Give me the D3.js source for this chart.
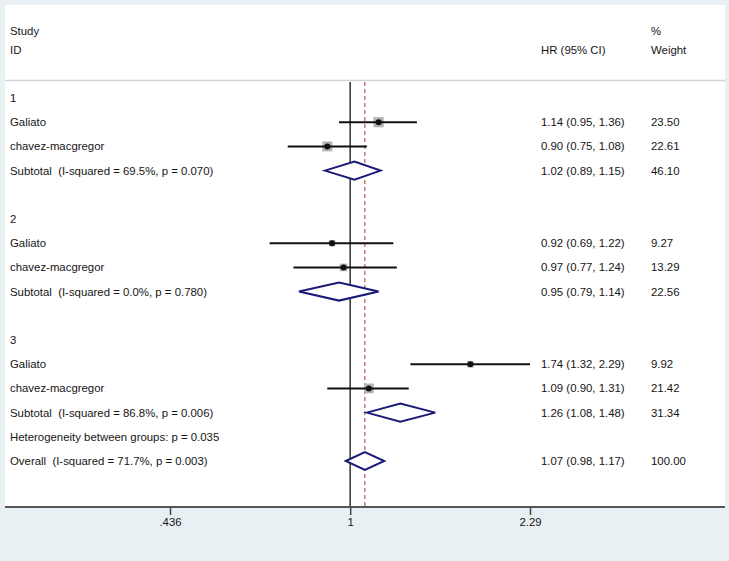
<!DOCTYPE html>
<meta charset="utf-8">
<style>
body { margin: 0; background: #e9f0f3; }
text { font: 11.4px "Liberation Sans", Arial, sans-serif; fill: #151515; white-space: pre; }
</style>
<svg width="729" height="561"></svg>
<script src="https://d3js.org/d3.v7.min.js"></script>
<script>

// study rows, one inner array per subgroup
var groupLabels = ["1", "2", "3"];
var studyNames = ["Galiato", "chavez-macgregor"];
var studyHR = [[1.14, 0.90], [0.92, 0.97], [1.74, 1.09]];
var studyLo = [[0.95, 0.75], [0.69, 0.77], [1.32, 0.90]];
var studyHi = [[1.36, 1.08], [1.22, 1.24], [2.29, 1.31]];
var studyWeight = [[23.50, 22.61], [9.27, 13.29], [9.92, 21.42]];

// subtotals
var subtotalLabels = [
  "Subtotal  (I-squared = 69.5%, p = 0.070)",
  "Subtotal  (I-squared = 0.0%, p = 0.780)",
  "Subtotal  (I-squared = 86.8%, p = 0.006)"
];
var subtotalHR = [1.02, 0.95, 1.26];
var subtotalLo = [0.89, 0.79, 1.08];
var subtotalHi = [1.15, 1.14, 1.48];
var subtotalWeight = [46.10, 22.56, 31.34];

// overall
var heterogeneityLabel = "Heterogeneity between groups: p = 0.035";
var overallLabel = "Overall  (I-squared = 71.7%, p = 0.003)";
var overallHR = 1.07, overallLo = 0.98, overallHi = 1.17, overallWeight = 100.00;

var tickValues = [0.436, 1, 2.29];
var tickLabels = [".436", "1", "2.29"];

var svg = d3.select("svg");

var x = d3.scaleLog().domain([0.436, 2.29]).range([170, 530]);
var y = d3.scaleLinear().domain([0, 15]).range([98, 461]);
var f2 = d3.format(".2f");

var colHR = 541, colW = 651, colLabel = 10;
var panelTop = 5, panelBottom = 507, panelLeft = 5, panelRight = 725;

// white panel
svg.append("rect")
    .attr("x", panelLeft).attr("y", panelTop)
    .attr("width", panelRight - panelLeft).attr("height", panelBottom - panelTop)
    .attr("fill", "#fff");

// header separator
svg.append("line")
    .attr("x1", panelLeft).attr("x2", panelRight)
    .attr("y1", 80.5).attr("y2", 80.5)
    .attr("stroke", "#d0d4d6").attr("stroke-width", 1.5);

// header texts
function label(xp, yp, s) {
  svg.append("text").attr("x", xp).attr("y", yp).attr("dy", "0.35em").text(s);
}
label(colLabel, 31, "Study");
label(colLabel, 50, "ID");
label(colHR, 50, "HR (95% CI)");
label(colW, 31, "%");
label(colW, 50, "Weight");

// reference lines
svg.append("line")
    .attr("x1", x(1)).attr("x2", x(1))
    .attr("y1", 82).attr("y2", panelBottom)
    .attr("stroke", "#333").attr("stroke-width", 1.5);

svg.append("line")
    .attr("x1", x(overallHR)).attr("x2", x(overallHR))
    .attr("y1", 82).attr("y2", panelBottom)
    .attr("stroke", "#b45a5a").attr("stroke-width", 1.2)
    .attr("stroke-dasharray", "4,3");

function ciText(hr, lo, hi) {
  return f2(hr) + " (" + f2(lo) + ", " + f2(hi) + ")";
}

function diamond(row, hr, lo, hi) {
  var yc = y(row), h = 9;
  svg.append("path")
      .attr("d", "M" + x(lo) + "," + yc + "L" + x(hr) + "," + (yc - h) +
                 "L" + x(hi) + "," + yc + "L" + x(hr) + "," + (yc + h) + "Z")
      .attr("fill", "#fff")
      .attr("stroke", "#1a1a78")
      .attr("stroke-width", 2);
}

groupLabels.forEach(function(g, gi) {
  var base = gi * 5;
  label(colLabel, y(base), g);

  studyNames.forEach(function(name, si) {
    var row = base + 1 + si, yc = y(row);
    var hr = studyHR[gi][si], lo = studyLo[gi][si], hi = studyHi[gi][si], w = studyWeight[gi][si];
    label(colLabel, yc, name);

    var side = 2.1 * Math.sqrt(w);
    svg.append("rect")
        .attr("x", x(hr) - side / 2).attr("y", yc - side / 2)
        .attr("width", side).attr("height", side)
        .attr("fill", "#b4b4b4");

    svg.append("line")
        .attr("x1", x(lo)).attr("x2", x(hi))
        .attr("y1", yc).attr("y2", yc)
        .attr("stroke", "#111").attr("stroke-width", 2);

    svg.append("circle")
        .attr("cx", x(hr)).attr("cy", yc).attr("r", 3)
        .attr("fill", "#111");

    label(colHR, yc, ciText(hr, lo, hi));
    label(colW, yc, f2(w));
  });

  var srow = base + 3;
  label(colLabel, y(srow), subtotalLabels[gi]);
  diamond(srow, subtotalHR[gi], subtotalLo[gi], subtotalHi[gi]);
  label(colHR, y(srow), ciText(subtotalHR[gi], subtotalLo[gi], subtotalHi[gi]));
  label(colW, y(srow), f2(subtotalWeight[gi]));
});

label(colLabel, y(14), heterogeneityLabel);
label(colLabel, y(15), overallLabel);
diamond(15, overallHR, overallLo, overallHi);
label(colHR, y(15), ciText(overallHR, overallLo, overallHi));
label(colW, y(15), f2(overallWeight));

// axis
svg.append("line")
    .attr("x1", panelLeft).attr("x2", panelRight)
    .attr("y1", panelBottom).attr("y2", panelBottom)
    .attr("stroke", "#555").attr("stroke-width", 2);

var axis = svg.append("g")
    .attr("transform", "translate(0," + panelBottom + ")")
    .call(d3.axisBottom(x)
      .tickValues(tickValues)
      .tickSize(8)
      .tickPadding(3)
      .tickFormat(function(d, i) { return tickLabels[i]; }));
axis.select(".domain").remove();
axis.selectAll(".tick line").attr("stroke", "#444").attr("stroke-width", 1.5);
axis.selectAll(".tick text").style("font", "11.4px 'Liberation Sans', Arial, sans-serif").attr("fill", "#151515");

</script>
